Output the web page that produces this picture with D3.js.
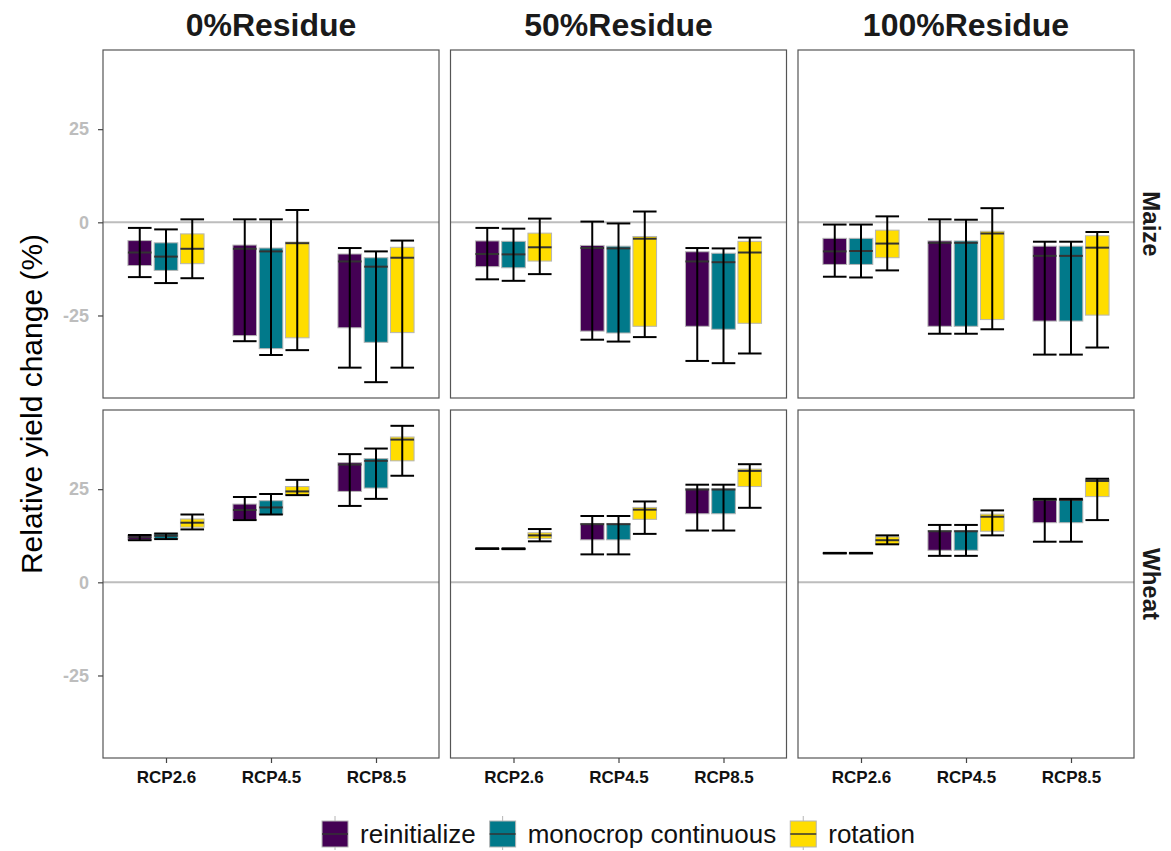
<!DOCTYPE html>
<html>
<head>
<meta charset="utf-8">
<script src="https://cdn.jsdelivr.net/npm/d3@7"></script>
<style>
  body { margin: 0; background: #fff; }
  text { font-family: "Liberation Sans", Arial, sans-serif; }
</style>
</head>
<body>
<div id="chart"></div>
<script>
const residues = ['0%Residue', '50%Residue', '100%Residue'];
const crops = ['Maize', 'Wheat'];
const scenarios = ['RCP2.6', 'RCP4.5', 'RCP8.5'];
const managements = ['reinitialize', 'monocrop continuous', 'rotation'];
const yTicks = [-25, 0, 25];
const colors = ['#440154', '#01798a', '#ffdd00'];

// each row: [min, q1, median, q3, max], ordered scenario x management
const maize0 = [
  [-14.7, -11.6, -8.1, -4.9, -1.5], [-16.3, -12.9, -9.2, -5.5, -1.9], [-15.0, -11.1, -7.1, -3.1, 0.8],
  [-31.9, -30.4, -7.1, -6.1, 0.8], [-35.6, -33.9, -7.8, -6.9, 0.8], [-34.3, -31.0, -5.6, -5.3, 3.3],
  [-39.0, -28.3, -10.5, -8.5, -6.9], [-42.9, -32.2, -11.9, -9.5, -7.8], [-39.0, -29.6, -9.5, -6.7, -4.9]
];
const maize50 = [
  [-15.3, -11.9, -8.5, -5.0, -1.5], [-15.7, -12.2, -8.6, -5.1, -1.7], [-13.9, -10.4, -6.7, -2.9, 1.0],
  [-31.5, -29.2, -6.9, -6.2, 0.2], [-32.0, -29.7, -7.0, -6.4, -0.3], [-30.8, -27.9, -4.4, -3.8, 2.9],
  [-37.2, -27.9, -10.5, -7.9, -6.9], [-37.8, -28.7, -10.7, -8.3, -7.0], [-35.2, -27.1, -8.1, -5.1, -4.1]
];
const maize100 = [
  [-14.6, -11.3, -7.8, -4.3, -0.6], [-14.8, -11.3, -7.7, -4.3, -0.6], [-12.9, -9.5, -5.7, -2.1, 1.6],
  [-29.9, -27.9, -5.5, -5.0, 0.8], [-29.9, -27.9, -5.5, -5.0, 0.7], [-28.7, -26.1, -3.0, -2.4, 3.8],
  [-35.5, -26.5, -9.0, -6.4, -5.2], [-35.5, -26.5, -9.0, -6.4, -5.2], [-33.6, -24.9, -6.8, -3.6, -2.6]
];
const wheat0 = [
  [11.3, 11.4, 12.1, 12.6, 12.7], [11.6, 11.7, 12.5, 13.0, 13.1], [14.2, 14.8, 16.0, 17.0, 18.2],
  [16.7, 16.7, 19.4, 21.0, 22.9], [18.2, 18.2, 20.1, 21.9, 23.7], [23.4, 23.4, 24.4, 25.7, 27.5],
  [20.5, 24.4, 31.6, 32.1, 34.4], [22.4, 25.3, 32.6, 33.2, 35.9], [28.6, 32.6, 38.3, 39.0, 42.0]
];
const wheat50 = [
  [9.0, 9.0, 9.0, 9.1, 9.1], [8.9, 9.0, 9.0, 9.1, 9.1], [11.0, 11.8, 12.6, 13.3, 14.3],
  [7.5, 11.4, 15.6, 15.8, 17.8], [7.5, 11.4, 15.6, 15.8, 17.8], [13.0, 16.9, 19.5, 20.1, 21.7],
  [13.9, 18.4, 24.9, 25.1, 26.2], [13.9, 18.4, 24.9, 25.1, 26.2], [20.0, 25.7, 29.9, 30.4, 31.7]
];
const wheat100 = [
  [7.8, 7.8, 7.8, 7.9, 7.9], [7.8, 7.8, 7.8, 7.9, 7.9], [10.2, 10.2, 11.3, 12.2, 12.6],
  [7.1, 8.6, 13.7, 13.9, 15.4], [7.1, 8.6, 13.7, 13.9, 15.4], [12.6, 13.7, 17.6, 18.3, 19.3],
  [10.9, 16.0, 22.1, 22.3, 22.4], [10.9, 16.0, 22.1, 22.3, 22.4], [16.7, 23.0, 27.2, 27.6, 27.8]
];

const panelData = [[maize0, maize50, maize100], [wheat0, wheat50, wheat100]];

const width = 1171, height = 851;
const marginLeft = 103, marginTop = 50, panelW = 336, panelH = 348, gapX = 11.5, gapY = 12;

const svg = d3.select('#chart').append('svg')
  .attr('width', width)
  .attr('height', height);

// shared y domain with ggplot-like 5% expansion
const allVals = panelData.flat(2).flat();
const yMin = d3.min(allVals), yMax = d3.max(allVals);
const pad = (yMax - yMin) * 0.05;
const y = d3.scaleLinear().domain([yMin - pad, yMax + pad]).range([panelH, 0]);

const x = d3.scalePoint().domain(scenarios).range([0, panelW]).padding(0.6);
const dodge = d3.scaleBand().domain(managements)
  .range([-0.375 * x.step(), 0.375 * x.step()]);
const boxW = dodge.bandwidth() * 0.9;
const color = d3.scaleOrdinal().domain(managements).range(colors);

crops.forEach((crop, r) => {
  residues.forEach((res, c) => {
    const g = svg.append('g')
      .attr('transform', `translate(${marginLeft + c * (panelW + gapX)},${marginTop + r * (panelH + gapY)})`);

    g.append('line')
      .attr('x1', 0).attr('x2', panelW)
      .attr('y1', y(0)).attr('y2', y(0))
      .attr('stroke', '#bdbdbd')
      .attr('stroke-width', 2);

    const rows = panelData[r][c].map((v, i) => ({
      scenario: scenarios[Math.floor(i / 3)],
      mgmt: managements[i % 3],
      min: v[0], q1: v[1], med: v[2], q3: v[3], max: v[4]
    }));

    const cx = d => x(d.scenario) + dodge(d.mgmt) + dodge.bandwidth() / 2;

    const box = g.selectAll('.box').data(rows).enter().append('g').attr('class', 'box');

    box.append('rect')
      .attr('x', d => cx(d) - boxW / 2)
      .attr('y', d => y(d.q3))
      .attr('width', boxW)
      .attr('height', d => Math.max(1, y(d.q1) - y(d.q3)))
      .attr('fill', d => color(d.mgmt))
      .attr('stroke', '#b5b5b5')
      .attr('stroke-width', 1);

    box.append('line')
      .attr('x1', d => cx(d) - boxW / 2)
      .attr('x2', d => cx(d) + boxW / 2)
      .attr('y1', d => y(d.med)).attr('y2', d => y(d.med))
      .attr('stroke', '#333')
      .attr('stroke-width', 2);

    // error bars
    box.append('line')
      .attr('x1', cx).attr('x2', cx)
      .attr('y1', d => y(d.max)).attr('y2', d => y(d.min))
      .attr('stroke', '#000')
      .attr('stroke-width', 2);
    ['min', 'max'].forEach(k => {
      box.append('line')
        .attr('x1', d => cx(d) - boxW / 2)
        .attr('x2', d => cx(d) + boxW / 2)
        .attr('y1', d => y(d[k])).attr('y2', d => y(d[k]))
        .attr('stroke', '#000')
        .attr('stroke-width', 2);
    });

    g.append('rect')
      .attr('width', panelW)
      .attr('height', panelH)
      .attr('fill', 'none')
      .attr('stroke', '#555')
      .attr('stroke-width', 1.2);

    if (c === 0) {
      const ax = g.append('g')
        .call(d3.axisLeft(y).tickValues(yTicks).tickSize(5).tickPadding(9).tickFormat(d => String(d)));
      ax.select('.domain').remove();
      ax.selectAll('line').attr('stroke', '#444').attr('stroke-width', 1.2);
      ax.selectAll('text')
        .attr('fill', '#bdbdbd')
        .attr('font-size', '18px')
        .attr('font-weight', 'bold')
        .style('font-family', '"Liberation Sans", Arial, sans-serif');
    }

    if (r === crops.length - 1) {
      const ax = g.append('g')
        .attr('transform', `translate(0,${panelH})`)
        .call(d3.axisBottom(x).tickSize(5).tickPadding(8));
      ax.select('.domain').remove();
      ax.selectAll('line').attr('stroke', '#444').attr('stroke-width', 1.2);
      ax.selectAll('text')
        .attr('fill', '#111')
        .attr('font-size', '17px')
        .attr('font-weight', 'bold')
        .style('font-family', '"Liberation Sans", Arial, sans-serif');
    }

    if (r === 0) {
      svg.append('text')
        .attr('x', marginLeft + c * (panelW + gapX) + panelW / 2)
        .attr('y', 36)
        .attr('text-anchor', 'middle')
        .attr('font-size', '32px')
        .attr('font-weight', 'bold')
        .attr('fill', '#1a1a1a')
        .text(res);
    }
  });

  const cy = marginTop + r * (panelH + gapY) + panelH / 2;
  svg.append('text')
    .attr('transform', `translate(1143,${cy}) rotate(90)`)
    .attr('text-anchor', 'middle')
    .attr('font-size', '24px')
    .attr('font-weight', 'bold')
    .attr('fill', '#1a1a1a')
    .text(crop);
});

svg.append('text')
  .attr('transform', `translate(42,${marginTop + panelH + gapY / 2}) rotate(-90)`)
  .attr('text-anchor', 'middle')
  .attr('font-size', '30px')
  .attr('fill', '#000')
  .text('Relative yield change (%)');

// legend
const legend = svg.append('g');
const keySize = 26;
let lx = 0;
managements.forEach(m => {
  const item = legend.append('g').attr('transform', `translate(${lx},0)`);
  item.append('line')
    .attr('x1', keySize / 2).attr('x2', keySize / 2)
    .attr('y1', -keySize / 2 - 5).attr('y2', keySize / 2 + 3)
    .attr('stroke', '#b5b5b5').attr('stroke-width', 1);
  item.append('rect')
    .attr('y', -keySize / 2)
    .attr('width', keySize).attr('height', keySize)
    .attr('fill', color(m))
    .attr('stroke', '#b5b5b5');
  item.append('line')
    .attr('x1', 0).attr('x2', keySize)
    .attr('y1', 0).attr('y2', 0)
    .attr('stroke', '#333').attr('stroke-width', 1.5);
  const t = item.append('text')
    .attr('x', keySize + 12)
    .attr('y', 9)
    .attr('font-size', '26px')
    .attr('fill', '#111')
    .text(m);
  lx += keySize + 12 + t.node().getComputedTextLength() + 14;
});
const legendCenter = marginLeft + (3 * panelW + 2 * gapX) / 2;
legend.attr('transform', `translate(${legendCenter - (lx - 14) / 2},834)`);
</script>
</body>
</html>
